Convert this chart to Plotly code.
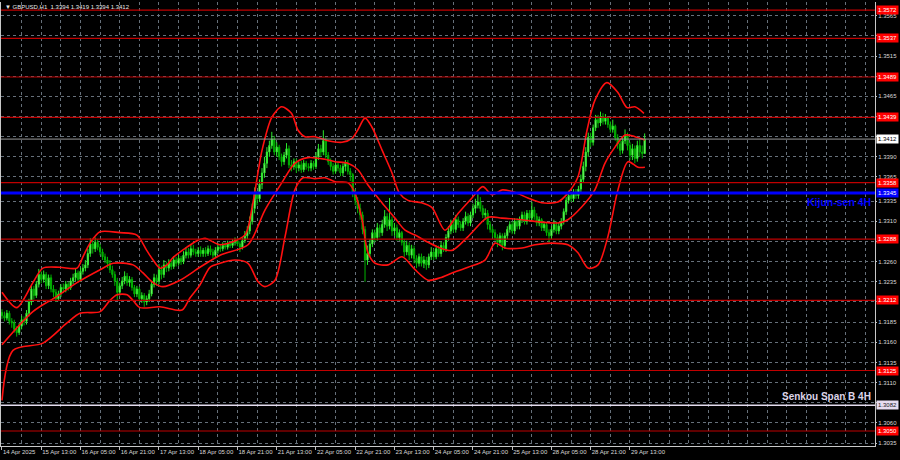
import plotly.graph_objects as go

# ---------------- data ----------------
symbol = "GBPUSD,H1"
tick_labels = ["14 Apr 2025", "15 Apr 13:00", "16 Apr 05:00", "16 Apr 21:00", "17 Apr 13:00",
               "18 Apr 05:00", "18 Apr 21:00", "21 Apr 13:00", "22 Apr 05:00", "22 Apr 21:00",
               "23 Apr 13:00", "24 Apr 05:00", "24 Apr 21:00", "25 Apr 13:00", "28 Apr 05:00",
               "28 Apr 21:00", "29 Apr 13:00"]
bars_per_label = 16

first_open = 1.3197
closes = [
 1.3193,1.3190,1.3196,1.3186,1.3184,1.3176,1.3172,1.3180,1.3188,1.3186,
 1.3196,1.3210,1.3226,1.3218,1.3232,1.3244,1.3238,1.3244,1.3230,1.3240,
 1.3226,1.3222,1.3214,1.3220,1.3228,1.3226,1.3232,1.3228,1.3236,1.3240,
 1.3246,1.3238,1.3248,1.3252,1.3256,1.3270,1.3282,1.3276,1.3284,1.3278,
 1.3272,1.3266,1.3262,1.3258,1.3250,1.3244,1.3236,1.3222,1.3230,1.3236,
 1.3242,1.3234,1.3238,1.3228,1.3220,1.3226,1.3214,1.3218,1.3210,1.3214,
 1.3220,1.3232,1.3240,1.3236,1.3250,1.3244,1.3256,1.3252,1.3258,1.3254,
 1.3262,1.3258,1.3264,1.3260,1.3268,1.3272,1.3268,1.3276,1.3272,1.3270,
 1.3274,1.3270,1.3274,1.3270,1.3276,1.3272,1.3268,1.3274,1.3278,1.3276,
 1.3280,1.3278,1.3282,1.3280,1.3284,1.3286,1.3282,1.3278,1.3286,1.3292,
 1.3298,1.3310,1.3326,1.3344,1.3338,1.3356,1.3370,1.3382,1.3396,1.3404,
 1.3412,1.3396,1.3402,1.3390,1.3384,1.3392,1.3400,1.3380,1.3378,1.3384,
 1.3376,1.3380,1.3374,1.3382,1.3378,1.3376,1.3382,1.3378,1.3390,1.3400,
 1.3396,1.3410,1.3392,1.3384,1.3378,1.3372,1.3380,1.3376,1.3370,1.3378,
 1.3382,1.3372,1.3368,1.3346,1.3336,1.3326,1.3318,1.3300,1.3262,1.3270,
 1.3282,1.3296,1.3290,1.3302,1.3296,1.3306,1.3316,1.3304,1.3312,1.3298,
 1.3302,1.3290,1.3296,1.3284,1.3272,1.3280,1.3268,1.3276,1.3264,1.3258,
 1.3266,1.3258,1.3262,1.3256,1.3266,1.3272,1.3266,1.3276,1.3270,1.3280,
 1.3276,1.3290,1.3298,1.3306,1.3300,1.3312,1.3306,1.3302,1.3310,1.3316,
 1.3308,1.3318,1.3326,1.3330,1.3334,1.3326,1.3318,1.3320,1.3306,1.3300,
 1.3296,1.3290,1.3284,1.3292,1.3280,1.3292,1.3300,1.3306,1.3298,1.3310,
 1.3304,1.3312,1.3318,1.3310,1.3320,1.3314,1.3324,1.3316,1.3308,1.3312,
 1.3302,1.3306,1.3296,1.3292,1.3300,1.3306,1.3298,1.3304,1.3310,1.3322,
 1.3336,1.3342,1.3338,1.3346,1.3342,1.3350,1.3362,1.3378,1.3396,1.3414,
 1.3408,1.3426,1.3436,1.3432,1.3440,1.3434,1.3438,1.3430,1.3424,1.3428,
 1.3414,1.3406,1.3398,1.3410,1.3416,1.3404,1.3392,1.3400,1.3388,1.3404,
 1.3396,1.3394,1.3412]
highs = [
 1.3201,1.3198,1.3200,1.3199,1.3190,1.3188,1.3180,1.3184,1.3193,1.3192,
 1.3200,1.3214,1.3230,1.3230,1.3236,1.3251,1.3248,1.3249,1.3247,1.3244,
 1.3244,1.3231,1.3226,1.3224,1.3232,1.3233,1.3236,1.3235,1.3240,1.3245,
 1.3252,1.3249,1.3253,1.3257,1.3262,1.3276,1.3289,1.3286,1.3290,1.3288,
 1.3282,1.3276,1.3270,1.3266,1.3262,1.3255,1.3248,1.3240,1.3234,1.3241,
 1.3248,1.3246,1.3242,1.3241,1.3231,1.3230,1.3229,1.3222,1.3221,1.3218,
 1.3225,1.3236,1.3245,1.3244,1.3257,1.3255,1.3262,1.3260,1.3263,1.3261,
 1.3267,1.3266,1.3268,1.3267,1.3273,1.3278,1.3277,1.3282,1.3281,1.3276,
 1.3278,1.3279,1.3277,1.3278,1.3280,1.3280,1.3276,1.3278,1.3283,1.3282,
 1.3284,1.3284,1.3286,1.3285,1.3288,1.3290,1.3289,1.3285,1.3290,1.3298,
 1.3304,1.3316,1.3332,1.3352,1.3348,1.3362,1.3376,1.3390,1.3402,1.3410,
 1.3421,1.3416,1.3408,1.3405,1.3394,1.3396,1.3407,1.3404,1.3386,1.3388,
 1.3388,1.3384,1.3385,1.3386,1.3385,1.3382,1.3386,1.3385,1.3396,1.3406,
 1.3405,1.3423,1.3414,1.3396,1.3388,1.3382,1.3384,1.3384,1.3380,1.3382,
 1.3386,1.3386,1.3376,1.3370,1.3350,1.3340,1.3332,1.3322,1.3304,1.3280,
 1.3288,1.3300,1.3300,1.3308,1.3306,1.3312,1.3324,1.3320,1.3339,1.3316,
 1.3308,1.3306,1.3300,1.3298,1.3288,1.3286,1.3284,1.3281,1.3280,1.3268,
 1.3270,1.3270,1.3267,1.3266,1.3270,1.3278,1.3276,1.3280,1.3280,1.3285,
 1.3284,1.3294,1.3304,1.3312,1.3310,1.3318,1.3316,1.3310,1.3314,1.3322,
 1.3320,1.3322,1.3332,1.3338,1.3346,1.3340,1.3330,1.3326,1.3324,1.3310,
 1.3304,1.3300,1.3294,1.3296,1.3295,1.3296,1.3304,1.3310,1.3310,1.3314,
 1.3314,1.3316,1.3322,1.3322,1.3324,1.3324,1.3334,1.3328,1.3320,1.3316,
 1.3314,1.3310,1.3309,1.3300,1.3304,1.3312,1.3310,1.3308,1.3314,1.3326,
 1.3340,1.3348,1.3346,1.3350,1.3350,1.3354,1.3368,1.3384,1.3402,1.3420,
 1.3420,1.3430,1.3442,1.3442,1.3446,1.3444,1.3443,1.3440,1.3434,1.3436,
 1.3430,1.3418,1.3410,1.3414,1.3424,1.3420,1.3408,1.3406,1.3404,1.3410,
 1.3412,1.3404,1.3419]
lows = [
 1.3189,1.3186,1.3187,1.3182,1.3178,1.3172,1.3167,1.3169,1.3176,1.3181,
 1.3182,1.3192,1.3206,1.3213,1.3215,1.3228,1.3233,1.3234,1.3226,1.3226,
 1.3222,1.3216,1.3210,1.3211,1.3216,1.3221,1.3222,1.3224,1.3225,1.3232,
 1.3236,1.3234,1.3235,1.3244,1.3248,1.3252,1.3266,1.3270,1.3272,1.3274,
 1.3268,1.3262,1.3258,1.3252,1.3246,1.3240,1.3230,1.3212,1.3218,1.3226,
 1.3232,1.3230,1.3229,1.3224,1.3216,1.3216,1.3210,1.3209,1.3204,1.3206,
 1.3210,1.3217,1.3228,1.3230,1.3232,1.3238,1.3240,1.3247,1.3248,1.3250,
 1.3251,1.3254,1.3255,1.3256,1.3257,1.3264,1.3264,1.3265,1.3268,1.3266,
 1.3266,1.3266,1.3266,1.3266,1.3267,1.3268,1.3264,1.3265,1.3270,1.3272,
 1.3273,1.3275,1.3275,1.3277,1.3277,1.3280,1.3279,1.3272,1.3275,1.3283,
 1.3288,1.3294,1.3306,1.3320,1.3330,1.3334,1.3350,1.3364,1.3376,1.3390,
 1.3400,1.3392,1.3390,1.3386,1.3378,1.3380,1.3388,1.3376,1.3372,1.3374,
 1.3370,1.3372,1.3370,1.3371,1.3374,1.3372,1.3372,1.3374,1.3375,1.3386,
 1.3390,1.3392,1.3388,1.3380,1.3373,1.3368,1.3369,1.3372,1.3366,1.3366,
 1.3372,1.3368,1.3360,1.3340,1.3330,1.3320,1.3312,1.3294,1.3235,1.3256,
 1.3266,1.3278,1.3284,1.3286,1.3290,1.3292,1.3302,1.3298,1.3300,1.3292,
 1.3292,1.3286,1.3286,1.3280,1.3266,1.3268,1.3262,1.3264,1.3258,1.3252,
 1.3254,1.3254,1.3252,1.3250,1.3252,1.3262,1.3262,1.3263,1.3266,1.3266,
 1.3272,1.3272,1.3286,1.3294,1.3296,1.3296,1.3302,1.3298,1.3298,1.3306,
 1.3304,1.3304,1.3314,1.3320,1.3326,1.3322,1.3314,1.3312,1.3300,1.3296,
 1.3290,1.3286,1.3278,1.3280,1.3274,1.3276,1.3288,1.3296,1.3294,1.3294,
 1.3300,1.3300,1.3308,1.3306,1.3306,1.3310,1.3310,1.3312,1.3304,1.3304,
 1.3298,1.3298,1.3292,1.3284,1.3288,1.3296,1.3294,1.3294,1.3300,1.3306,
 1.3318,1.3332,1.3334,1.3334,1.3338,1.3338,1.3346,1.3358,1.3372,1.3390,
 1.3402,1.3404,1.3422,1.3426,1.3428,1.3430,1.3430,1.3426,1.3420,1.3420,
 1.3410,1.3400,1.3392,1.3394,1.3406,1.3398,1.3386,1.3386,1.3382,1.3384,
 1.3390,1.3388,1.3394]

# Bollinger-type bands, read at sample bars (bar index, price)
upper_idx = [0, 6, 12.6, 16.7, 23.6, 30.6, 33, 35.9, 40, 48, 55, 59, 61.6, 64.4, 67.3, 69.7, 75.4,
             79.5, 82.8, 88.9, 99, 102, 106, 110, 114, 118, 120.7, 123.5, 127.6, 132.9, 138.6,
             142.7, 145, 148, 150.8, 155, 159, 162, 165.5, 171, 175.3, 180.6, 186, 191.6, 196,
             199.8, 204, 209, 214.4, 220, 226.6, 230.7, 234.8, 238.5, 241.7, 246.6, 251, 254.8,
             258, 261.7]
upper_val = [1.3222, 1.3203, 1.3234, 1.3252, 1.3253, 1.3252, 1.3266, 1.3283, 1.3297, 1.3296,
             1.3293, 1.3274, 1.3262, 1.3252, 1.3256, 1.3265, 1.3278, 1.3286, 1.3289, 1.3281,
             1.3293, 1.3328, 1.3398, 1.3439, 1.3452, 1.3444, 1.3423, 1.3415, 1.3415, 1.3410,
             1.3408, 1.3413, 1.3423, 1.3438, 1.3427, 1.3398, 1.3370, 1.3345, 1.3336, 1.3333,
             1.3327, 1.3299, 1.3320, 1.3339, 1.3353, 1.3343, 1.3349, 1.3346, 1.3339, 1.3333,
             1.3334, 1.3345, 1.3365, 1.3423, 1.3460, 1.3482, 1.3470, 1.3451, 1.3452, 1.3444]
middle_idx = [0, 12.6, 22.4, 30.6, 40, 45.3, 53.4, 57.5, 61.6, 65.6, 72.6, 80.7, 88.9, 100.3,
              107.2, 114.1, 119.4, 124.7, 131.7, 135.8, 141, 145.1, 149.2, 154.9, 160.2, 164.3,
              168.4, 173.7, 178.6, 183.5, 190, 198.1, 203.8, 212, 220.1, 226.7, 230.7, 236.4,
              241.7, 245.8, 249.9, 254, 258, 262.1]
middle_val = [1.3157, 1.3198, 1.3217, 1.3234, 1.3250, 1.3258, 1.3256, 1.3246, 1.3234, 1.3229,
              1.3237, 1.3253, 1.3268, 1.3281, 1.3324, 1.3358, 1.3382, 1.3389, 1.3387, 1.3384,
              1.3382, 1.3374, 1.3355, 1.3333, 1.3314, 1.3299, 1.3293, 1.3284, 1.3277, 1.3274,
              1.3291, 1.3315, 1.3314, 1.3312, 1.3309, 1.3308, 1.3312, 1.3328, 1.3349, 1.3382,
              1.3402, 1.3417, 1.3415, 1.3411]
lower_idx = [0, 4.5, 16.7, 26.5, 31.8, 40, 44, 46.9, 51, 53.4, 56.3, 64.4, 73.4, 76.6, 80.7,
             84.8, 88.9, 95, 100.3, 104.4, 107.2, 111.3, 115.4, 119.4, 122.7, 127.6, 131.7,
             135.8, 141, 143.9, 146.8, 149.2, 152.1, 157.4, 163.1, 168.4, 173.7, 178.6, 183.5,
             190, 196.9, 201, 205, 212, 217.3, 224.2, 230.7, 234.8, 238.9, 243, 247, 251.1,
             255.2, 259.3, 262.1]
lower_val = [1.3088, 1.3150, 1.3159, 1.3184, 1.3196, 1.3198, 1.3212, 1.3219, 1.3219, 1.3212,
             1.3203, 1.3204, 1.3200, 1.3215, 1.3231, 1.3253, 1.3258, 1.3262, 1.3258, 1.3235,
             1.3229, 1.3237, 1.3291, 1.3349, 1.3364, 1.3363, 1.3364, 1.3359, 1.3358, 1.3345,
             1.3312, 1.3271, 1.3258, 1.3256, 1.3266, 1.3250, 1.3237, 1.3240, 1.3246, 1.3253,
             1.3262, 1.3283, 1.3277, 1.3277, 1.3281, 1.3283, 1.3281, 1.3271, 1.3252, 1.3256,
             1.3291, 1.3349, 1.3384, 1.3377, 1.3377]

red_levels = [1.3572, 1.3537, 1.3489, 1.3439, 1.3358, 1.3288, 1.3212, 1.3125, 1.3050]
kijun_level = 1.3345
senkou_level = 1.3082
price_ticks = [1.3565, 1.3540, 1.3515, 1.3490, 1.3465, 1.3440, 1.3415, 1.3390, 1.3365, 1.3335,
               1.3310, 1.3285, 1.3260, 1.3235, 1.3210, 1.3185, 1.3160, 1.3135, 1.3110, 1.3085,
               1.3060, 1.3035]
hidden_ticks = [1.3540, 1.3490, 1.3440, 1.3415, 1.3285, 1.3210, 1.3085]  # covered by price boxes

# ---------------- figure ----------------
n = len(closes)
bar_idx = list(range(n))
opens = [first_open] + closes[:-1]
last_price = closes[-1]

fig = go.Figure()
fig.add_trace(go.Candlestick(
    x=bar_idx, open=opens, high=highs, low=lows, close=closes,
    increasing=dict(line=dict(color="#2bea2b", width=1), fillcolor="#c8ffb0"),
    decreasing=dict(line=dict(color="#00b400", width=1), fillcolor="#009a00"),
    whiskerwidth=0, hoverinfo="skip"))

for xs, ys in [(upper_idx, upper_val), (middle_idx, middle_val), (lower_idx, lower_val)]:
    fig.add_trace(go.Scatter(x=xs, y=ys, mode="lines",
                             line=dict(color="#ff1010", width=1.6, shape="spline", smoothing=0.8),
                             hoverinfo="skip"))

shapes = []
for lv in red_levels:
    shapes.append(dict(type="line", xref="paper", x0=0, x1=1, yref="y", y0=lv, y1=lv,
                       line=dict(color="#c00000", width=1.2)))
shapes.append(dict(type="line", xref="paper", x0=0, x1=1, yref="y", y0=last_price, y1=last_price,
                   line=dict(color="#9a9a9a", width=1)))
shapes.append(dict(type="line", xref="paper", x0=0, x1=1, yref="y", y0=senkou_level, y1=senkou_level,
                   line=dict(color="#e4dcee", width=1.5)))
shapes.append(dict(type="line", xref="paper", x0=0, x1=1, yref="y", y0=kijun_level, y1=kijun_level,
                   line=dict(color="#0000ff", width=3)))

ann = []
def box(v, bg, fg):
    ann.append(dict(xref="paper", x=1, xanchor="left", xshift=1, yref="y", y=v, yanchor="middle",
                    text=f"{v:.4f}", showarrow=False, bgcolor=bg, width=21, height=8,
                    font=dict(size=6, color=fg, family="Liberation Sans"), borderpad=0))
for lv in red_levels:
    box(lv, "#ff0000", "#ffffff")
box(kijun_level, "#0000ff", "#ffffff")
box(last_price, "#ffffff", "#000000")
box(senkou_level, "#e6dcf0", "#202020")

ann.append(dict(xref="paper", x=1, xanchor="right", xshift=-2, yref="y", y=kijun_level,
                yanchor="top", yshift=-1, text="<b>Kijun-sen 4H</b>", showarrow=False,
                font=dict(size=10.5, color="#0000ff", family="Liberation Sans Narrow, Liberation Sans")))
ann.append(dict(xref="paper", x=1, xanchor="right", xshift=-2, yref="y", y=senkou_level,
                yanchor="bottom", yshift=1, text="<b>Senkou Span B 4H</b>", showarrow=False,
                font=dict(size=10, color="#dcd4e8", family="Liberation Sans Narrow, Liberation Sans")))
title_txt = f"▼ {symbol}  {opens[-1]:.4f} {highs[-1]:.4f} {lows[-1]:.4f} {closes[-1]:.4f}"
ann.append(dict(xref="paper", x=0, xanchor="left", xshift=2, yref="paper", y=1, yanchor="top",
                yshift=0, text=title_txt, showarrow=False,
                font=dict(size=6, color="#e8e8e8", family="Liberation Sans")))

tickvals_x = [i * bars_per_label for i in range(len(tick_labels))]
grid_col = "#66707a"

fig.update_layout(
    width=900, height=460, margin=dict(l=1, r=25, t=2, b=14, autoexpand=False),
    paper_bgcolor="#000000", plot_bgcolor="#000000", showlegend=False,
    shapes=shapes, annotations=ann,
    xaxis=dict(range=[-0.4, 355.9], tickvals=tickvals_x, ticktext=tick_labels, tickangle=0,
               ticks="outside", ticklen=3, tickcolor="#c0c0c0", ticklabelposition="outside right",
               tickfont=dict(size=6, color="#d8d8d8", family="Liberation Sans"),
               showgrid=True, gridcolor=grid_col, griddash="3px,3px", gridwidth=1,
               minor=dict(tick0=0, dtick=8, showgrid=True, gridcolor=grid_col, griddash="3px,3px"),
               showline=True, linecolor="#c8c8c8", linewidth=1, zeroline=False, automargin=False,
               rangeslider=dict(visible=False), fixedrange=True),
    yaxis=dict(side="right", range=[1.30314, 1.3582], tickvals=price_ticks,
               ticktext=["" if v in hidden_ticks else f"{v:.4f}" for v in price_ticks],
               ticks="outside", ticklen=1, tickcolor="#c0c0c0",
               tickfont=dict(size=6, color="#d8d8d8", family="Liberation Sans"),
               showgrid=True, gridcolor=grid_col, griddash="3px,3px", gridwidth=1, automargin=False,
               showline=True, linecolor="#c8c8c8", linewidth=1, mirror=True, zeroline=False,
               fixedrange=True),
)
fig.write_html("out.html", config={"displayModeBar": False, "staticPlot": True},
               post_script="document.body.style.margin='0px';document.body.style.background='#000';")
